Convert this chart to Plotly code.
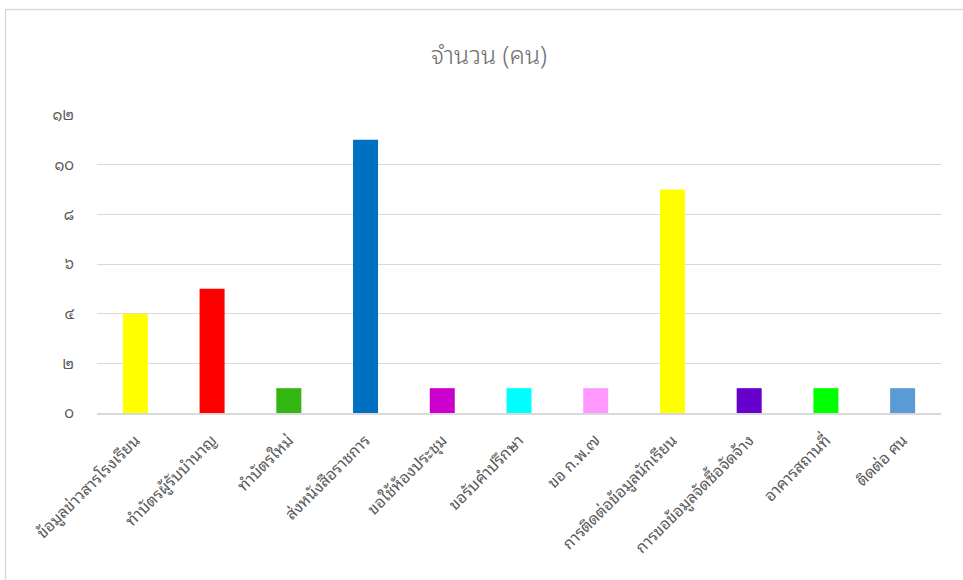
import plotly.graph_objects as go

# Service categories and head counts
categories = [
    "ข้อมูลข่าวสารโรงเรียน",
    "ทำบัตรผู้รับบำนาญ",
    "ทำบัตรใหม่",
    "ส่งหนังสือราชการ",
    "ขอใช้ห้องประชุม",
    "ขอรับคำปรึกษา",
    "ขอ ก.พ.๗",
    "การติดต่อข้อมูลนักเรียน",
    "การขอข้อมูลจัดซื้อจัดจ้าง",
    "อาคารสถานที่",
    "ติดต่อ ศน",
]
counts = [4, 5, 1, 11, 1, 1, 1, 9, 1, 1, 1]
bar_colors = [
    "#FFFF00", "#FF0000", "#33B612", "#0070C0", "#CC00CC", "#00FFFF",
    "#FF99FF", "#FFFF00", "#6600CC", "#00FF00", "#5B9BD5",
]

# Y axis ticks written in Thai numerals
tick_values = [0, 2, 4, 6, 8, 10, 12]
tick_labels = ["๐", "๒", "๔", "๖", "๘", "๑๐", "๑๒"]

FONT = "'Noto Sans Thai Looped', Loma, Garuda, Tahoma, 'Noto Sans Thai', 'Noto Sans', sans-serif"
GREY = "#595959"
LINE = "#D9D9D9"

fig = go.Figure(
    go.Bar(
        x=categories,
        y=counts,
        marker=dict(color=bar_colors, line=dict(width=0)),
        hoverinfo="x+y",
    )
)

fig.update_layout(
    width=963,
    height=580,
    paper_bgcolor="white",
    plot_bgcolor="white",
    margin=dict(l=97, r=22, t=115, b=167),
    bargap=0.674,
    showlegend=False,
    title=dict(
        text="จำนวน (คน)",
        x=489 / 963,
        xanchor="center",
        xref="container",
        y=1 - 55 / 580,
        yanchor="middle",
        yref="container",
        font=dict(family=FONT, size=25, color="#707070", weight=300),
    ),
    font=dict(family=FONT, color=GREY, size=15),
    shapes=[
        # outer chart frame (left and top edges)
        dict(
            type="rect",
            xref="paper",
            yref="paper",
            x0=(5.5 - 97) / 844,
            x1=1.2,
            y0=-0.8,
            y1=(413 - 9.5) / 298,
            line=dict(color=LINE, width=1.3),
            fillcolor="rgba(0,0,0,0)",
            layer="below",
        )
    ],
)

fig.update_yaxes(
    range=[0, 12],
    tickvals=tick_values,
    ticktext=tick_labels,
    showgrid=True,
    gridcolor=LINE,
    gridwidth=1,
    zeroline=False,
    showline=False,
    ticks="",
    ticklabelstandoff=22,
    tickfont=dict(family=FONT, size=15, color=GREY),
)

fig.update_xaxes(
    tickangle=-45,
    showline=True,
    linecolor=LINE,
    linewidth=1.5,
    showgrid=False,
    ticks="",
    ticklabelstandoff=10,
    tickfont=dict(family=FONT, size=16, color=GREY),
)

fig.write_html("out.html")
